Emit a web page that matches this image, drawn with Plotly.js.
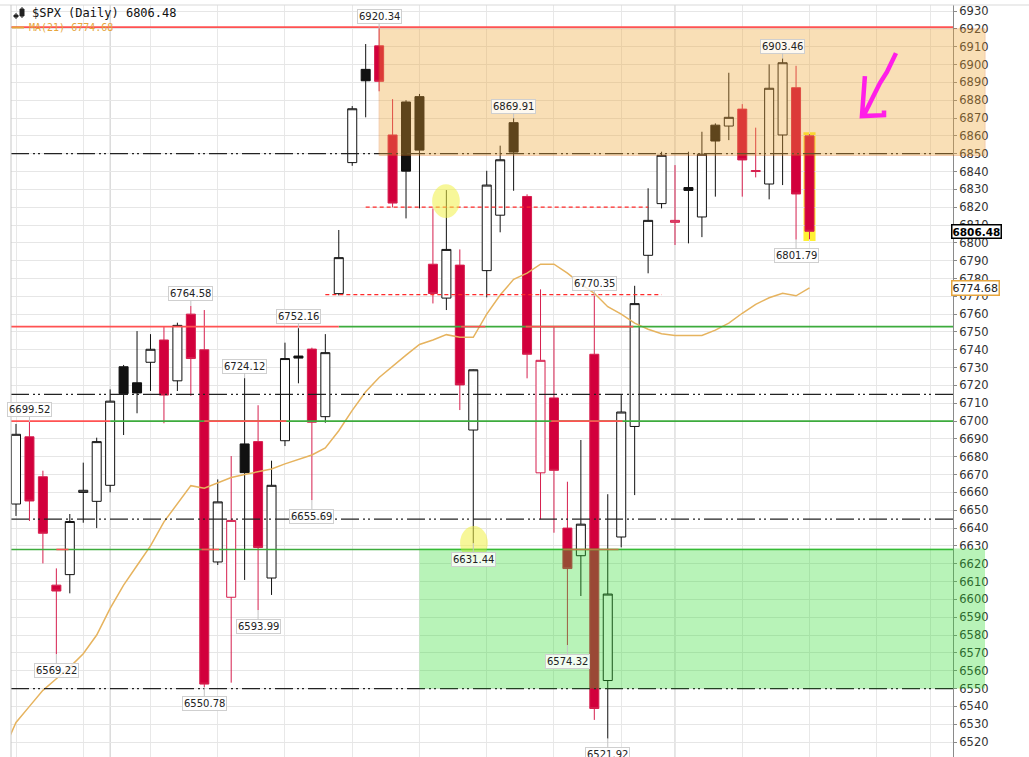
<!DOCTYPE html>
<html>
<head>
<meta charset="utf-8">
<script src="https://cdn.plot.ly/plotly-3.0.1.min.js"></script>
<style>
  html, body { margin: 0; padding: 0; background: #fff; }
  #chart { width: 1029px; height: 757px; }
</style>
</head>
<body>
<div id="chart"></div>
<script>
// $SPX daily bars, 22 Sep .. 15 Dec (one entry per trading day)
const prevClose = 6664.36; // close of the bar before the first one, only used for its colour
const open = [6653.5, 6691.2, 6668.8, 6608, 6613.9, 6660, 6655, 6664, 6730.5, 6721.5,
	6733, 6745.5, 6722.6, 6760, 6740, 6621, 6601.2, 6687.2, 6688.5, 6612,
	6689, 6736.5, 6740.4, 6702.5, 6771.5, 6845, 6897.3, 6910.5, 6860.5, 6879,
	6882, 6788, 6769, 6787.5, 6695, 6784.4, 6815.5, 6867.4, 6826, 6671,
	6713, 6640, 6624.5, 6737.5, 6554.5, 6635, 6697, 6793, 6822, 6811.5,
	6831, 6814.5, 6866, 6865.5, 6875, 6840, 6833, 6860.5, 6887, 6860];
const high = [6698.4, 6699.52, 6672.2, 6617.4, 6647.9, 6676.7, 6690.7, 6717.8, 6731.5, 6750.5,
	6748.8, 6753.3, 6755.2, 6764.58, 6762.3, 6667.3, 6680.4, 6724.12, 6708.9, 6677.8,
	6744, 6752.16, 6741.2, 6748.8, 6807.2, 6876.7, 6911.5, 6920.34, 6880.6, 6880,
	6883.5, 6819.3, 6829.6, 6796.3, 6729, 6840.4, 6854.5, 6869.91, 6827.2, 6773.9,
	6753.3, 6666, 6689.4, 6770.35, 6659, 6715.2, 6775.9, 6830.6, 6851.1, 6843.6,
	6851.1, 6862.3, 6867, 6895.4, 6877.8, 6864.6, 6900.1, 6903.46, 6899.3, 6861];
const low = [6646.8, 6644, 6620.2, 6569.22, 6603.4, 6643, 6640, 6660, 6692.2, 6704.4,
	6716.9, 6698.8, 6716.9, 6714.2, 6550.78, 6619.3, 6553.3, 6610.9, 6593.99, 6602.5,
	6686, 6721.2, 6655.69, 6699.1, 6770.5, 6843.2, 6870.4, 6885, 6819.9, 6813.7,
	6819.3, 6766, 6762.3, 6706.2, 6631.44, 6769.4, 6805.9, 6829.2, 6724, 6644.9,
	6637.4, 6574.32, 6601.9, 6532.4, 6521.92, 6629.2, 6658.5, 6782.9, 6819.3, 6798.8,
	6799.7, 6803.2, 6825.9, 6857.6, 6825.9, 6836.7, 6824.4, 6832.4, 6801.79, 6802];
const close = [6692.6, 6655.2, 6637.1, 6604.7, 6643.7, 6661.2, 6688.5, 6711.2, 6715.4, 6715.8,
	6740.3, 6714.6, 6753.7, 6735.1, 6552.5, 6654.7, 6644.3, 6671.1, 6629.1, 6664.0,
	6735.1, 6735.35, 6699.4, 6738.4, 6791.7, 6875.2, 6890.9, 6890.6, 6822.3, 6840.2,
	6852.0, 6771.6, 6796.3, 6720.3, 6728.8, 6832.4, 6846.6, 6850.9, 6737.5, 6734.1,
	6672.4, 6617.3, 6642.2, 6538.8, 6603.0, 6705.1, 6765.9, 6812.6, 6849.1, 6812.6,
	6829.4, 6849.7, 6857.1, 6870.4, 6846.5, 6840.5, 6886.7, 6901.0, 6827.4, 6806.48];
// MA(21); first value belongs to the bar before the first candle
const ma21 = [6514, 6531, 6540, 6549, 6555.5, 6562, 6569.5, 6580, 6595, 6608,
	6619, 6630, 6643.5, 6653.5, 6663.8, 6662.4, 6665.3, 6668.4, 6670.1, 6671.6,
	6673.1, 6676, 6678.7, 6681, 6684.9, 6694.6, 6706, 6716.5, 6724.5, 6731,
	6737, 6743, 6745.5, 6748.5, 6747, 6747, 6760, 6770.7, 6779.5, 6783,
	6788, 6788, 6783, 6777, 6771.7, 6764.2, 6760, 6755, 6751.5, 6749,
	6748, 6748, 6748, 6751, 6755, 6760.5, 6765.5, 6769.2, 6771.7, 6770.3, 6774.68];

// bars whose high / low carries a price tag
const highTags = [1, 13, 17, 21, 27, 37, 43, 57];
const lowTags = [3, 14, 18, 22, 34, 41, 44, 58];

// bar numbers of week and month starts (vertical grid)
const weekStarts = [0, 5, 10, 15, 20, 25, 30, 35, 40, 45, 49, 54, 59, 64, 68];
const monthStarts = [7, 30, 49];

// drawn levels: [price, from bar, to bar]
const dashDotLevels = [6850, 6715, 6645, 6550];
const greenLevels = [[6753, 24, 70], [6700, 7, 70], [6628, -1, 70]];
const redLevels = [[6921, -1, 70], [6753, -1, 24], [6753, 33.1, 34.9], [6753, 37.9, 45.9],
	[6700, -1, 7], [6700, 14, 20.1], [6700, 39.8, 45.1],
	[6628, 3, 3.9], [6628, 13.8, 15.1], [6628, 40.7, 44.8]];
const redDashLevels = [[6820, 26, 47], [6771, 23, 48]];
// shaded zones: [from bar, bottom price, top price]
const resistZone = [27, 6849, 6920];
const supportZone = [30, 6550, 6628.5];
// yellow marker circles: [bar, price]
const circleMarks = [[31.97, 6823.4], [34.05, 6631.6]];
// hand drawn magenta arrow, [bar, price] pen points
const penStroke = [[65.43, 6906.4], [64.76, 6895.8], [64.24, 6889.6], [63.72, 6881.8], [63.35, 6876.2], [62.97, 6870.6]];
const penHead = [[63.12, 6893.5], [62.9, 6871.1], [64.54, 6871.6], [64.54, 6874.2]];

const lastClose = close[close.length - 1];
const lastMA = ma21[ma21.length - 1];

const xr = [-0.372, 69.67];
const yr = [6511.6, 6933.4];
const RED = '#d2003c', RED_LINE = '#d61f4e', BLACK = '#111111';
const W = 1029, H = 757, M = { l: 11, r: 76, t: 5, b: 0 };

function paperX(i) {
	return (i - xr[0]) / (xr[1] - xr[0]);
}
// pixel position in the page -> paper coordinates (only for the small header icon)
function pxX(px) {
	return (px - M.l) / (W - M.l - M.r);
}
function pxY(py) {
	return 1 - (py - M.t) / (H - M.t - M.b);
}

// split the bars by colour: black when the close rose, red when it fell
const groups = {
	black: { x: [], o: [], h: [], l: [], c: [] },
	red: { x: [], o: [], h: [], l: [], c: [] }
};
for (let i = 0; i < close.length; i++) {
	const before = i === 0 ? prevClose : close[i - 1];
	const g = close[i] >= before ? groups.black : groups.red;
	g.x.push(i);
	g.o.push(open[i]);
	g.h.push(high[i]);
	g.l.push(low[i]);
	g.c.push(close[i]);
}

function candleTrace(g, line, fill) {
	return {
		type: 'candlestick',
		x: g.x, open: g.o, high: g.h, low: g.l, close: g.c,
		whiskerwidth: 0,
		hoverinfo: 'skip',
		increasing: { line: { color: line, width: 1 }, fillcolor: '#ffffff' },
		decreasing: { line: { color: line, width: 1 }, fillcolor: fill }
	};
}

const data = [
	{
		type: 'scatter', mode: 'lines',
		x: ma21.map((v, k) => k - 1), y: ma21,
		line: { color: '#e6b35e', width: 1.5 },
		hoverinfo: 'skip'
	},
	candleTrace(groups.black, BLACK, BLACK),
	candleTrace(groups.red, RED_LINE, RED)
];

const shapes = [];
monthStarts.forEach(function (i) {
	shapes.push({ type: 'line', layer: 'below', xref: 'x', yref: 'paper', x0: i, x1: i, y0: 0, y1: 1,
		line: { color: '#c9c9c9', width: 1 } });
});
// last bar highlight
shapes.push({ type: 'rect', layer: 'below', xref: 'x', yref: 'y',
	x0: close.length - 1.45, x1: close.length - 0.55, y0: low[close.length - 1] - 1, y1: high[close.length - 1] + 1,
	fillcolor: 'rgba(255,238,0,0.8)', line: { width: 0 } });

dashDotLevels.forEach(function (p) {
	shapes.push({ type: 'line', xref: 'paper', yref: 'y', x0: 0, x1: 1, y0: p, y1: p,
		line: { color: '#222', width: 1.3, dash: '18px,4px,2px,3px,2px,4px' } });
});
greenLevels.forEach(function (s) {
	shapes.push({ type: 'line', xref: 'x', yref: 'y', x0: s[1], x1: s[2], y0: s[0], y1: s[0],
		line: { color: '#3dab3d', width: 1.6 } });
});
redLevels.forEach(function (s) {
	shapes.push({ type: 'line', xref: 'x', yref: 'y', x0: s[1], x1: s[2], y0: s[0], y1: s[0],
		line: { color: '#ff5252', width: 1.6 } });
});
redDashLevels.forEach(function (s) {
	shapes.push({ type: 'line', xref: 'x', yref: 'y', x0: s[1], x1: s[2], y0: s[0], y1: s[0],
		line: { color: '#ff2a2a', width: 1.3, dash: '4px,3px' } });
});
circleMarks.forEach(function (c) {
	shapes.push({ type: 'circle', xref: 'x', yref: 'y', x0: c[0] - 1.03, x1: c[0] + 1.03, y0: c[1] - 9.5, y1: c[1] + 9.5,
		fillcolor: 'rgb(240,240,70)', opacity: 0.55, line: { width: 0 } });
});
shapes.push({ type: 'rect', xref: 'paper', yref: 'y', x0: paperX(resistZone[0]), x1: 1.034,
	y0: resistZone[1], y1: resistZone[2], fillcolor: 'rgb(240,165,50)', opacity: 0.35,
	line: { color: '#e0701a', width: 1 } });
shapes.push({ type: 'rect', xref: 'paper', yref: 'y', x0: paperX(supportZone[0]), x1: 1.034,
	y0: supportZone[1], y1: supportZone[2], fillcolor: 'rgb(40,220,40)', opacity: 0.33,
	line: { width: 0 } });

function toPath(pts) {
	return pts.map((p, k) => (k ? 'L' : 'M') + p[0] + ',' + p[1]).join(' ');
}
shapes.push({ type: 'path', xref: 'x', yref: 'y', path: toPath(penStroke) + ' ' + toPath(penHead),
	line: { color: '#ff1ee8', width: 4.5 } });

// frame
shapes.push({ type: 'line', xref: 'paper', yref: 'paper', x0: pxX(0), x1: pxX(W), y0: 1, y1: 1,
	line: { color: '#d9d9d9', width: 1 } });
shapes.push({ type: 'line', xref: 'paper', yref: 'paper', x0: 0, x1: 0, y0: 0, y1: 1,
	line: { color: '#c8c8c8', width: 1 } });
// legend dash for the MA
shapes.push({ type: 'line', xref: 'paper', yref: 'paper', x0: pxX(12), x1: pxX(24), y0: pxY(27.5), y1: pxY(27.5),
	line: { color: '#e6a53c', width: 2 } });
// little candlestick icon in front of the symbol
[[13, 19, 15, 17], [19, 25, 9, 16]].forEach(function (b) {
	const cx = (b[0] + b[1]) / 2;
	shapes.push({ type: 'line', xref: 'paper', yref: 'paper', x0: pxX(cx), x1: pxX(cx), y0: pxY(b[2] - 2), y1: pxY(b[3] + 2),
		line: { color: '#222', width: 1 } });
	shapes.push({ type: 'rect', xref: 'paper', yref: 'paper', x0: pxX(b[0] + 1), x1: pxX(b[1] - 1), y0: pxY(b[2]), y1: pxY(b[3]),
		fillcolor: '#222', line: { color: '#222', width: 1 } });
});

const tagFont = { family: 'DejaVu Sans', size: 10, color: '#222' };
function priceTag(i, price, below) {
	return {
		x: i, y: price, xref: 'x', yref: 'y',
		text: price.toFixed(2),
		showarrow: true, arrowhead: 0, arrowwidth: 1, arrowcolor: '#c4c4c4',
		ax: 0, ay: below ? 16 : -12,
		font: tagFont,
		bgcolor: 'rgba(255,255,255,0.8)', bordercolor: '#cfcfcf', borderwidth: 1, borderpad: 1
	};
}

const annotations = [];
highTags.forEach(i => annotations.push(priceTag(i, high[i], false)));
lowTags.forEach(i => annotations.push(priceTag(i, low[i], true)));

annotations.push({
	xref: 'paper', yref: 'paper', x: pxX(30), y: pxY(13), xanchor: 'left', yanchor: 'middle',
	text: '$SPX (Daily) ' + lastClose.toFixed(2), showarrow: false,
	font: { family: 'DejaVu Sans Mono', size: 12, color: '#111' }
});
annotations.push({
	xref: 'paper', yref: 'paper', x: pxX(27), y: pxY(27.5), xanchor: 'left', yanchor: 'middle',
	text: 'MA(21) ' + lastMA.toFixed(2), showarrow: false,
	font: { family: 'DejaVu Sans Mono', size: 10, color: '#e6a53c' }
});
annotations.push({
	xref: 'paper', yref: 'y', x: 0.998, y: lastClose, xanchor: 'left', yanchor: 'middle',
	text: '<b>' + lastClose.toFixed(2) + '</b>', showarrow: false,
	font: { family: 'DejaVu Sans', size: 10.5, color: '#000' },
	bgcolor: '#ffffff', bordercolor: '#000', borderwidth: 1.5, borderpad: 0
});
annotations.push({
	xref: 'paper', yref: 'y', x: 0.998, y: lastMA, xanchor: 'left', yanchor: 'middle',
	text: lastMA.toFixed(2), showarrow: false,
	font: { family: 'DejaVu Sans', size: 11, color: '#222' },
	bgcolor: '#ffffff', bordercolor: '#e6a53c', borderwidth: 1.5, borderpad: 0
});

const layout = {
	width: W, height: H,
	margin: M,
	paper_bgcolor: '#ffffff', plot_bgcolor: '#ffffff',
	showlegend: false, hovermode: false,
	boxgap: 0.33, boxgroupgap: 0,
	xaxis: {
		range: xr, tickvals: weekStarts, showticklabels: false, ticks: '',
		showgrid: true, gridcolor: '#e8e8e8', zeroline: false, showline: false,
		rangeslider: { visible: false }, fixedrange: true
	},
	yaxis: {
		side: 'right', range: yr, tick0: 0, dtick: 10,
		showgrid: true, gridcolor: '#e6e6e6', zeroline: false,
		showline: true, linecolor: '#8a8a8a', linewidth: 1,
		ticks: 'outside', ticklen: 3, tickcolor: '#8a8a8a',
		tickfont: { family: 'DejaVu Sans', size: 11.5, color: '#333' },
		fixedrange: true
	},
	shapes: shapes,
	annotations: annotations
};

Plotly.newPlot('chart', data, layout, { displayModeBar: false, staticPlot: true });
</script>
</body>
</html>
